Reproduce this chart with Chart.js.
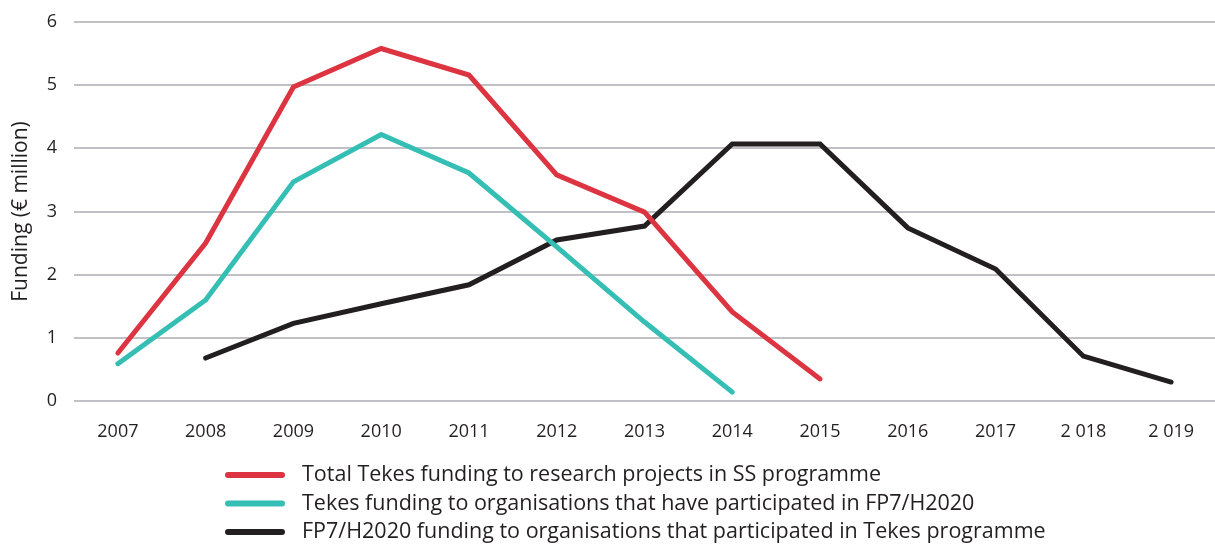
<!DOCTYPE html>
<html>
<head>
<meta charset="utf-8">
<script src="https://cdn.jsdelivr.net/npm/chart.js@4.4.0/dist/chart.umd.min.js"></script>
<style>
  html, body { margin: 0; padding: 0; background: #fff; }
  #wrap { position: relative; width: 1215px; height: 545px; }
</style>
</head>
<body>
<div id="wrap"><canvas id="c"></canvas></div>
<script>
// values (€ million)
const years = ['2007','2008','2009','2010','2011','2012','2013','2014','2015','2016','2017','2 018','2 019'];
const totalTekes = [0.76, 2.50, 4.97, 5.58, 5.16, 3.58, 2.99, 1.41, 0.35, null, null, null, null];
const tekesToFp7 = [0.59, 1.60, 3.47, 4.22, 3.61, 2.44, 1.25, 0.14, null, null, null, null, null];
const fp7ToTekes = [null, 0.68, 1.23, 1.54, 1.84, 2.55, 2.77, 4.07, 4.07, 2.74, 2.09, 0.71, 0.30];
const seriesNames = [
  'Total Tekes funding to research projects in SS programme',
  'Tekes funding to organisations that have participated in FP7/H2020',
  'FP7/H2020 funding to organisations that participated in Tekes programme'
];
const yTicks = [0, 1, 2, 3, 4, 5, 6];

const FONT = '"Open Sans", "Noto Sans", sans-serif';
const TEXT = '#231f20';

// legend drawn left-aligned under the plot, one row per series
const stackedLegend = {
  id: 'stackedLegend',
  afterDraw(chart) {
    const ctx = chart.ctx;
    ctx.save();
    chart.data.datasets.forEach((ds, i) => {
      const y = 475 + i * 28.5;
      ctx.strokeStyle = ds.borderColor;
      ctx.lineWidth = 6;
      ctx.lineCap = 'round';
      ctx.beginPath();
      ctx.moveTo(228, y);
      ctx.lineTo(282, y);
      ctx.stroke();
      ctx.fillStyle = TEXT;
      ctx.font = '21.5px ' + FONT;
      ctx.textBaseline = 'middle';
      ctx.fillText(ds.label, 302, y);
    });
    ctx.restore();
  }
};

const mk = (label, data, color) => ({
  label, data, borderColor: color, backgroundColor: color,
  borderWidth: 5, pointRadius: 0, tension: 0, spanGaps: false,
  borderCapStyle: 'round', borderJoinStyle: 'miter'
});

new Chart(document.getElementById('c'), {
  type: 'line',
  data: {
    labels: years,
    datasets: [
      mk(seriesNames[0], totalTekes, '#dc3440'),
      mk(seriesNames[1], tekesToFp7, '#35bfb4'),
      mk(seriesNames[2], fp7ToTekes, '#231f20')
    ]
  },
  options: {
    responsive: true,
    maintainAspectRatio: false,
    animation: false,
    layout: { padding: { top: 22, right: 0, bottom: 0, left: 0 } },
    plugins: { legend: { display: false }, tooltip: { enabled: false } },
    scales: {
      x: {
        offset: true,
        grid: { display: false },
        border: { display: false },
        ticks: { color: TEXT, font: { family: FONT, size: 18 }, padding: 12, maxRotation: 0, autoSkip: false },
        afterFit(s) { s.height = 144; s.paddingLeft = 0; s.paddingRight = 0; }
      },
      y: {
        min: 0, max: 6,
        afterBuildTicks(s) { s.ticks = yTicks.map(v => ({ value: v })); },
        grid: { color: '#c1c1c5', lineWidth: 2, drawTicks: false },
        border: { display: false },
        ticks: { color: TEXT, font: { family: FONT, size: 18 }, padding: 17 },
        title: { display: true, text: 'Funding (€ million)', color: TEXT, font: { family: FONT, size: 21 }, padding: { top: 8, bottom: 0 } },
        afterFit(s) { s.width = 74; s.paddingTop = 0; s.paddingBottom = 0; }
      }
    }
  },
  plugins: [stackedLegend]
});
</script>
</body>
</html>
